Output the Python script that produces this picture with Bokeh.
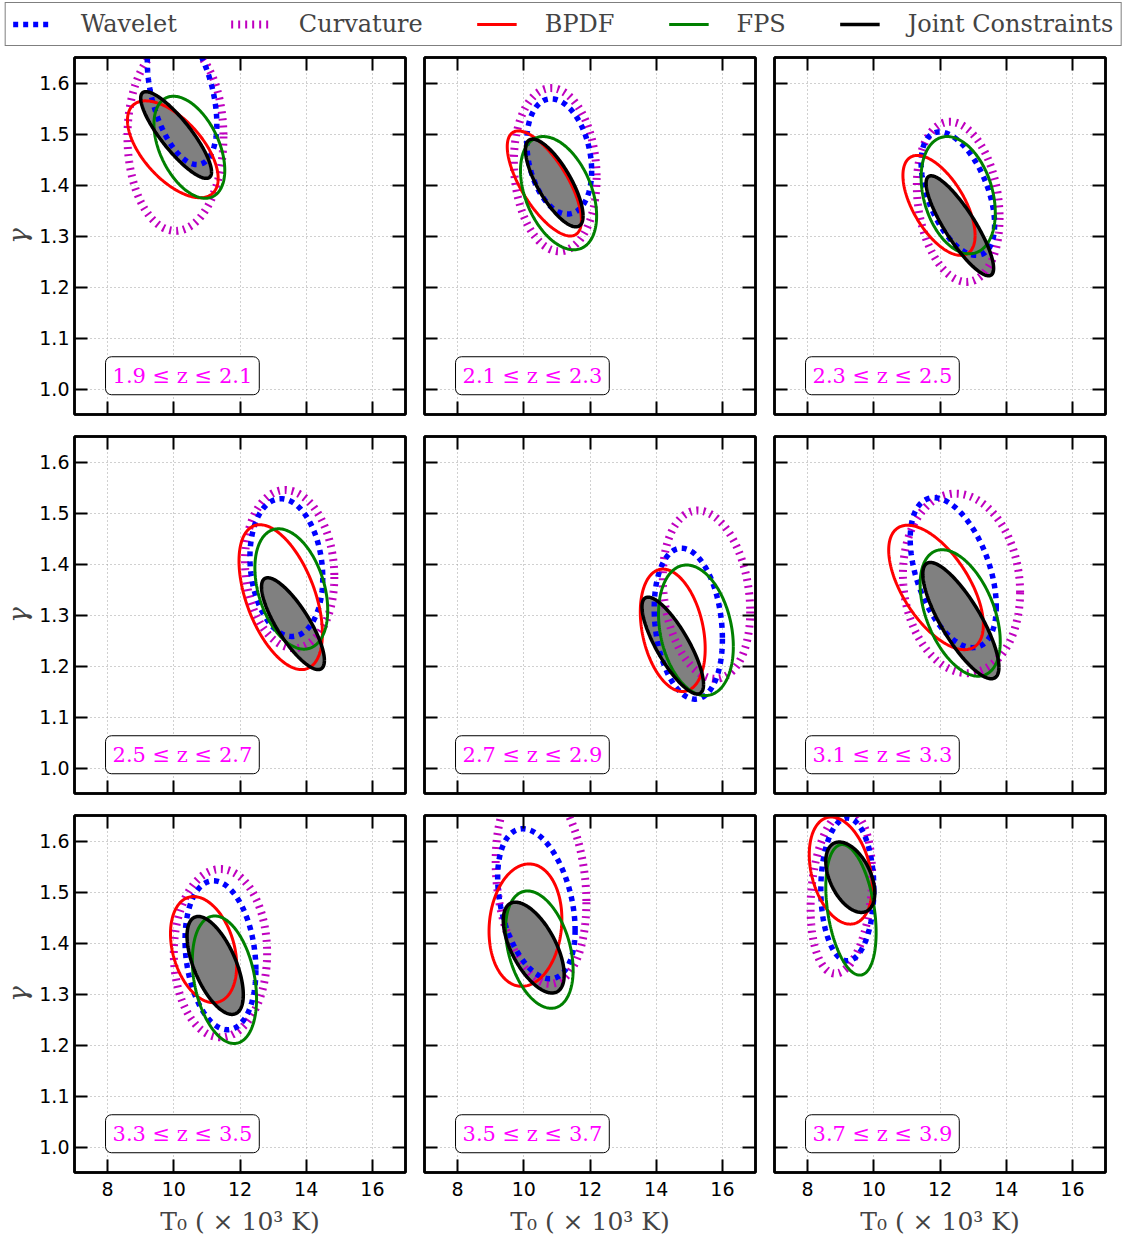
import numpy as np
from bokeh.plotting import figure
from bokeh.layouts import column, row
from bokeh.models import (Label, LinearAxis, FixedTicker, Range1d, Legend,
                          LegendItem, CustomJSTickFormatter)
from bokeh.embed import file_html
from bokeh.resources import INLINE

# ---------------- data ----------------
redshift_bins = ["1.9 ≤ z ≤ 2.1", "2.1 ≤ z ≤ 2.3", "2.3 ≤ z ≤ 2.5",
                 "2.5 ≤ z ≤ 2.7", "2.7 ≤ z ≤ 2.9", "3.1 ≤ z ≤ 3.3",
                 "3.3 ≤ z ≤ 3.5", "3.5 ≤ z ≤ 3.7", "3.7 ≤ z ≤ 3.9"]

x_ticks = [8, 10, 12, 14, 16]
y_ticks = [1.0, 1.1, 1.2, 1.3, 1.4, 1.5, 1.6]

# contour summaries per redshift bin: centre (T0, gamma), half extents, tilt
wavelet_T0 = [10.25, 11.07, 12.54, 13.40, 14.97, 12.40, 11.41, 10.38, 9.20]
wavelet_gamma = [1.580, 1.456, 1.383, 1.393, 1.283, 1.383, 1.376, 1.477, 1.505]
wavelet_dT0 = [1.05, 0.98, 1.11, 1.10, 1.03, 1.30, 1.07, 1.17, 0.80]
wavelet_dgamma = [0.140, 0.113, 0.121, 0.135, 0.148, 0.147, 0.146, 0.147, 0.140]
wavelet_rho = [-0.43, -0.25, -0.50, -0.15, -0.20, -0.45, -0.20, -0.35, 0.00]

curv_T0 = [10.05, 10.95, 12.55, 13.50, 15.52, 12.65, 11.41, 10.52, 9.02]
curv_gamma = [1.495, 1.430, 1.367, 1.390, 1.340, 1.362, 1.380, 1.520, 1.500]
curv_dT0 = [1.45, 1.25, 1.25, 1.35, 1.32, 1.77, 1.41, 1.37, 0.93]
curv_dgamma = [0.185, 0.160, 0.157, 0.155, 0.165, 0.176, 0.165, 0.200, 0.160]
curv_rho = [0.00, -0.10, -0.20, -0.10, -0.20, -0.10, 0.00, -0.20, 0.20]

bpdf_T0 = [9.97, 10.62, 11.97, 13.23, 14.50, 11.88, 10.90, 10.05, 9.00]
bpdf_gamma = [1.470, 1.403, 1.360, 1.335, 1.270, 1.354, 1.387, 1.435, 1.542]
bpdf_dT0 = [1.37, 1.12, 1.09, 1.26, 0.98, 1.43, 1.00, 1.10, 0.95]
bpdf_dgamma = [0.095, 0.103, 0.098, 0.142, 0.120, 0.122, 0.104, 0.120, 0.105]
bpdf_rho = [-0.60, -0.70, -0.60, -0.50, -0.30, -0.60, -0.30, 0.10, -0.30]

fps_T0 = [10.47, 11.05, 12.55, 13.55, 15.20, 12.61, 11.53, 10.47, 9.31]
fps_gamma = [1.474, 1.384, 1.380, 1.351, 1.270, 1.304, 1.328, 1.387, 1.465]
fps_dT0 = [1.07, 1.15, 1.12, 1.10, 1.13, 1.21, 0.97, 1.02, 0.76]
fps_dgamma = [0.100, 0.111, 0.115, 0.118, 0.128, 0.124, 0.125, 0.115, 0.128]
fps_rho = [-0.45, -0.40, -0.30, -0.35, -0.25, -0.45, -0.30, -0.35, -0.35]

joint_T0 = [10.07, 10.92, 12.60, 13.60, 14.50, 12.63, 11.25, 10.30, 9.29]
joint_gamma = [1.498, 1.404, 1.320, 1.283, 1.240, 1.289, 1.356, 1.391, 1.529]
joint_dT0 = [1.07, 0.87, 1.02, 0.95, 0.93, 1.15, 0.85, 0.92, 0.74]
joint_dgamma = [0.085, 0.086, 0.098, 0.090, 0.095, 0.114, 0.096, 0.089, 0.069]
joint_rho = [-0.85, -0.75, -0.85, -0.80, -0.80, -0.80, -0.60, -0.60, -0.45]

# ---------------- styles ----------------
SERIF = "DejaVu Serif"
SANS = "DejaVu Sans"
styles = {
    "Wavelet": dict(line_color="#0000ff", line_width=5.5, line_dash="5 5"),
    "Curvature": dict(line_color="#bf00bf", line_width=8, line_dash="2 5"),
    "BPDF": dict(line_color="#ff0000", line_width=3),
    "FPS": dict(line_color="#008000", line_width=3),
    "Joint Constraints": dict(line_color="#000000", line_width=3.5),
}

t = np.linspace(0, 2 * np.pi, 200)


def outline(cx, cy, hx, hy, rho):
    d = np.arccos(np.clip(rho, -0.999, 0.999))
    return cx + hx * np.cos(t), cy + hy * np.cos(t + d)


def style_axis(ax, ticks, show_labels, fmt=None, standoff=7):
    ax.ticker = FixedTicker(ticks=ticks)
    ax.major_tick_in = 13
    ax.major_tick_out = 0
    ax.minor_tick_in = 0
    ax.minor_tick_out = 0
    ax.major_tick_line_width = 2
    ax.major_tick_line_color = "black"
    ax.axis_line_width = 2.5
    ax.axis_line_color = "black"
    if show_labels:
        if fmt is not None:
            ax.formatter = CustomJSTickFormatter(code=fmt)
        ax.major_label_text_font = SANS
        ax.major_label_text_font_size = "19px"
        ax.major_label_text_color = "black"
        ax.major_label_standoff = standoff
    else:
        ax.formatter = CustomJSTickFormatter(code="return ''")
        ax.major_label_text_font_size = "1px"
        ax.major_label_standoff = 0


FW, FH = 331, 357
LEFT = [74, 10, 10]
RIGHT = [9, 9, 21]
TOP = [9, 11, 11]
BOTTOM = [11, 11, 67]

panels = []
for i in range(9):
    r, c = divmod(i, 3)
    lb, rb, tb, bb = LEFT[c], RIGHT[c], TOP[r], BOTTOM[r]
    p = figure(width=lb + FW + rb, height=tb + FH + bb,
               x_range=Range1d(7, 17), y_range=Range1d(0.95, 1.65),
               output_backend="svg", toolbar_location=None,
               min_border_left=lb, min_border_right=rb,
               min_border_top=tb, min_border_bottom=bb)
    p.background_fill_color = "white"
    p.border_fill_color = "white"
    p.outline_line_color = "black"
    p.outline_line_width = 2.5

    bottom_ax = p.xaxis[0]
    left_ax = p.yaxis[0]
    style_axis(bottom_ax, x_ticks, r == 2, "return tick.toFixed(0)", standoff=9)
    style_axis(left_ax, y_ticks, c == 0, "return tick.toFixed(1)", standoff=5)
    top_ax = LinearAxis()
    right_ax = LinearAxis()
    style_axis(top_ax, x_ticks, False)
    style_axis(right_ax, y_ticks, False)
    p.add_layout(top_ax, "above")
    p.add_layout(right_ax, "right")
    if r == 2:
        bottom_ax.axis_label = "T₀ ( × 10³ K)"
        bottom_ax.axis_label_text_font = SERIF
        bottom_ax.axis_label_text_font_size = "25px"
        bottom_ax.axis_label_text_font_style = "normal"
        bottom_ax.axis_label_standoff = 8
    if c == 0:
        left_ax.axis_label = "γ"
        left_ax.axis_label_text_font = SERIF
        left_ax.axis_label_text_font_size = "26px"
        left_ax.axis_label_text_font_style = "italic"
        left_ax.axis_label_standoff = 3

    p.xgrid.ticker = FixedTicker(ticks=x_ticks)
    p.ygrid.ticker = FixedTicker(ticks=y_ticks)
    p.grid.grid_line_color = "#a0a0a0"
    p.grid.grid_line_dash = "1 3"
    p.grid.grid_line_width = 1

    jx, jy = outline(joint_T0[i], joint_gamma[i], joint_dT0[i], joint_dgamma[i], joint_rho[i])
    p.patch(jx, jy, fill_color="#808080", line_color=None)

    for name, (X, Y, DX, DY, RH) in [
        ("Curvature", (curv_T0, curv_gamma, curv_dT0, curv_dgamma, curv_rho)),
        ("Wavelet", (wavelet_T0, wavelet_gamma, wavelet_dT0, wavelet_dgamma, wavelet_rho)),
        ("BPDF", (bpdf_T0, bpdf_gamma, bpdf_dT0, bpdf_dgamma, bpdf_rho)),
        ("FPS", (fps_T0, fps_gamma, fps_dT0, fps_dgamma, fps_rho)),
    ]:
        xs, ys = outline(X[i], Y[i], DX[i], DY[i], RH[i])
        p.line(xs, ys, **styles[name])
    p.line(jx, jy, **styles["Joint Constraints"])

    p.add_layout(Label(x=10.26, y=1.026, text=redshift_bins[i], text_align="center",
                       text_baseline="middle", text_color="#ff00ff",
                       text_font=SERIF, text_font_size="21px",
                       background_fill_color="white", border_line_color="black",
                       border_line_width=1, padding=7, border_radius=6))
    panels.append(p)

# ---------------- legend strip ----------------
total_w = sum(pp.width for pp in panels[:3])
lf = figure(width=total_w, height=48, output_backend="svg", toolbar_location=None,
            x_range=Range1d(0, 1), y_range=Range1d(0, 1), min_border=0,
            x_axis_location=None, y_axis_location=None)
lf.grid.visible = False
lf.outline_line_color = None
items = []
for name in ["Wavelet", "Curvature", "BPDF", "FPS", "Joint Constraints"]:
    rr = lf.line(x=[5, 6], y=[5, 6], **styles[name])
    items.append(LegendItem(label=name, renderers=[rr]))
leg = Legend(items=items, orientation="horizontal", location="center",
             label_text_font=SERIF, label_text_font_size="24px",
             glyph_width=40, label_standoff=28, spacing=54, padding=7, margin=0,
             border_line_color="black", border_line_width=1.2,
             background_fill_color="white")
lf.add_layout(leg, "center")

layout = column(lf,
                row(*panels[0:3]),
                row(*panels[3:6]),
                row(*panels[6:9]))

open("out.html", "w").write(file_html(layout, INLINE))
